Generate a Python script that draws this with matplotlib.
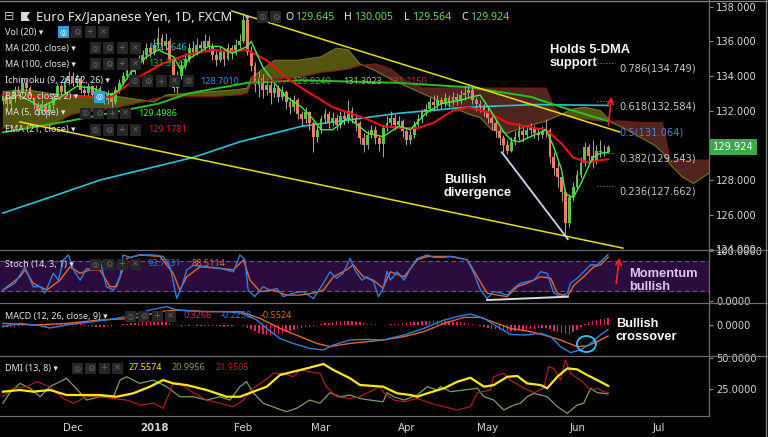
import numpy as np
import pandas as pd
import matplotlib
matplotlib.use("Agg")
import matplotlib.pyplot as plt
from matplotlib.patches import Ellipse, Rectangle, Polygon
from matplotlib.lines import Line2D

plt.rcParams['font.family'] = ['DejaVu Sans']

# ---------------- data ----------------
# daily candles, EUR/JPY, 7 Nov 2017 .. 13 Jun 2018 (one bar per weekday)
start_date = '2017-11-07'
first_open = 132.6
closes = [132.9, 132.4, 132.7, 133.2, 133.0, 133.6, 133.3, 132.8, 132.3, 132.0,
          132.4, 131.9, 132.3, 132.8, 133.4, 133.1, 133.7, 134.0, 133.6, 133.9,
          133.2, 133.0, 133.4, 132.9, 133.3, 132.8, 132.6, 133.0, 132.5, 133.2,
          133.6, 134.0, 134.3, 134.2, 134.7, 134.9, 135.2, 135.6, 135.3, 135.8,
          136.2, 135.7, 136.0, 135.0, 133.3, 134.0, 134.6, 135.0, 135.6, 135.4,
          135.8, 135.6, 136.0, 135.7, 135.2, 134.9, 135.4, 135.0, 135.6, 135.3,
          135.8, 136.0, 137.2, 135.4, 134.6, 133.5, 133.9, 133.2, 133.5, 133.0,
          133.3, 132.8, 133.1, 132.5, 132.2, 132.6, 131.8, 131.5, 131.9, 131.3,
          130.5, 130.9, 131.5, 131.8, 131.3, 131.6, 131.2, 131.7, 131.5, 132.0,
          131.6, 131.3, 130.4, 130.0, 130.6, 130.9, 130.4, 130.1, 131.0, 131.3,
          131.6, 131.2, 131.4, 130.8, 130.3, 130.6, 131.2, 131.5, 131.9, 132.1,
          132.5, 132.3, 132.6, 132.4, 132.7, 132.5, 132.8, 132.6, 132.9, 133.0,
          133.2, 132.6, 132.4, 132.2, 132.0, 131.6, 131.3, 130.8, 130.4, 130.0,
          129.7, 130.2, 130.5, 130.8, 130.6, 130.9, 131.0, 130.7, 130.6, 130.8,
          130.9, 129.3, 128.7, 128.2, 127.3, 125.5, 127.0, 127.6, 128.3, 129.0,
          129.9, 129.4, 129.1, 129.7, 129.6, 129.645, 129.924]
highs = [133.1, 133.0, 132.9, 133.4, 133.4, 133.9, 133.8, 133.4, 132.9, 132.5,
         132.6, 132.5, 132.5, 133.0, 133.6, 133.6, 133.9, 134.3, 134.2, 134.1,
         134.0, 133.5, 133.6, 133.5, 133.5, 133.4, 133.0, 133.2, 133.1, 133.4,
         133.8, 134.2, 134.6, 134.5, 135.0, 135.2, 135.5, 135.9, 135.8, 136.1,
         136.8, 136.4, 136.5, 136.2, 135.1, 134.3, 134.9, 135.3, 135.9, 136.0,
         136.2, 136.0, 136.4, 136.3, 135.9, 135.5, 135.7, 135.6, 135.9, 135.8,
         136.1, 136.4, 137.6, 137.3, 135.7, 134.8, 134.3, 134.1, 133.9, 133.7,
         133.6, 133.5, 133.4, 133.2, 132.8, 132.9, 132.7, 132.0, 132.2, 132.0,
         131.4, 131.2, 131.7, 132.1, 132.0, 131.9, 131.8, 132.0, 132.0, 132.6,
         132.2, 131.8, 131.4, 130.7, 130.9, 131.2, 131.1, 130.6, 131.2, 131.7,
         132.0, 131.8, 131.7, 131.5, 131.0, 130.9, 131.4, 131.8, 132.1, 132.4,
         132.8, 132.9, 132.9, 132.8, 133.0, 132.9, 133.1, 133.0, 133.2, 133.4,
         133.5, 133.4, 132.8, 132.6, 132.4, 132.2, 131.8, 131.5, 131.0, 130.6,
         130.3, 130.5, 130.8, 131.3, 131.0, 131.2, 131.3, 131.2, 131.0, 131.1,
         131.5, 131.0, 129.6, 129.0, 128.4, 127.5, 127.2, 127.9, 128.6, 129.3,
         130.2, 130.1, 130.3, 130.0, 130.3, 130.0, 130.005]
lows = [132.4, 132.2, 132.2, 132.5, 132.8, 132.9, 133.1, 132.6, 132.1, 131.7,
        131.8, 131.6, 131.7, 132.1, 132.7, 132.9, 133.0, 133.5, 133.4, 133.4,
        133.0, 132.8, 132.8, 132.7, 132.7, 132.6, 132.4, 132.4, 132.2, 132.4,
        133.0, 133.5, 133.8, 133.9, 134.1, 134.5, 134.7, 135.0, 135.1, 135.2,
        135.6, 135.5, 135.5, 134.8, 133.1, 133.0, 133.8, 134.4, 134.8, 135.1,
        135.2, 135.3, 135.4, 135.4, 134.9, 134.6, 134.8, 134.6, 134.9, 135.0,
        135.2, 135.6, 135.9, 135.2, 134.3, 133.1, 132.8, 132.7, 132.9, 132.4,
        132.8, 132.5, 132.6, 132.1, 131.8, 132.0, 131.5, 131.1, 131.3, 130.9,
        129.6, 130.2, 130.7, 131.3, 131.0, 131.1, 130.9, 131.0, 131.2, 131.3,
        131.3, 130.8, 130.1, 129.6, 129.8, 130.4, 130.1, 129.7, 129.3, 130.8,
        131.1, 130.9, 131.0, 130.5, 130.0, 130.1, 130.4, 131.0, 131.3, 131.7,
        131.9, 132.0, 132.1, 132.1, 132.2, 132.2, 132.3, 132.3, 132.4, 132.6,
        132.8, 132.4, 132.0, 131.9, 131.7, 131.3, 130.9, 130.5, 130.0, 129.6,
        129.5, 129.6, 130.0, 130.3, 130.2, 130.4, 130.6, 130.4, 130.3, 130.4,
        130.5, 129.0, 128.3, 127.6, 126.8, 124.9, 125.3, 126.8, 127.4, 128.1,
        128.8, 129.1, 128.7, 128.9, 129.3, 129.4, 129.564]

# moving averages (bar index, value)
ma200_x = [0, 12, 25, 49, 61, 77, 102, 120, 137, 156]
ma200_y = [126.1, 127.0, 128.0, 129.3, 130.2, 131.1, 131.85, 132.2, 132.35, 132.3]
ma100_x = [0, 17, 40, 48, 63, 77, 102, 120, 136, 144, 156]
ma100_y = [130.75, 131.4, 132.4, 133.0, 133.6, 133.75, 133.6, 133.35, 132.8, 132.2, 131.4]
ema21_x = [0, 5, 28, 34, 41, 47, 54, 59, 63, 68, 73, 77, 85, 94, 98, 103, 107, 111,
           116, 120, 125, 130, 137, 140, 144, 147, 151, 154, 156]
ema21_y = [132.9, 132.8, 132.8, 133.8, 134.7, 135.2, 135.5, 135.4, 135.5, 134.9, 133.9,
           133.3, 132.2, 131.5, 131.1, 131.0, 131.0, 131.3, 132.0, 132.2, 131.9, 131.3,
           131.0, 130.9, 130.1, 129.3, 129.0, 129.15, 129.2]
ma5_x = [0, 4, 10, 15, 19, 23, 28, 30, 33, 37, 40, 44, 46, 48, 53, 56, 59, 63, 64, 67,
         70, 73, 77, 80, 82, 85, 89, 94, 98, 102, 105, 109, 113, 118, 121, 123, 126, 129,
         131, 133, 136, 140, 142, 144, 145, 147, 149, 151, 152, 154, 156]
ma5_y = [132.6, 132.9, 132.2, 132.8, 133.4, 133.3, 132.9, 133.2, 134.2, 135.1, 135.5,
         135.1, 134.3, 135.0, 135.7, 135.7, 135.3, 135.7, 136.0, 134.5, 133.6, 132.8,
         132.2, 131.5, 130.9, 130.9, 131.6, 130.7, 130.5, 131.1, 130.9, 131.85, 132.4,
         132.6, 132.8, 132.9, 131.9, 130.8, 130.3, 130.2, 130.5, 130.9, 129.9, 128.6,
         127.2, 127.0, 127.8, 128.8, 129.3, 129.55, 129.6]

# ichimoku cloud (shifted 26 bars ahead)
cloud_x = [0, 6, 12, 18, 24, 30, 36, 39, 42, 48, 54, 60, 63, 64, 70, 76, 82, 86, 89, 92,
           96, 100, 104, 108, 112, 116, 120, 123, 126, 130, 135, 140, 142, 144, 147, 150,
           154, 157, 160, 164, 168, 170, 172, 175, 178, 182]
span_a = [133.1, 133.2, 133.0, 132.9, 132.8, 132.8, 132.6, 132.5, 132.9, 133.0,
          133.1, 133.2, 133.3, 133.9, 134.9, 134.9, 135.1, 135.6, 135.5, 134.7,
          134.3, 133.8, 133.4, 133.0, 132.6, 132.2, 131.8, 131.6, 130.9, 130.7,
          131.1, 131.4, 131.6, 131.8, 132.1, 132.2, 132.0, 131.3, 131.0, 130.5,
          130.0, 129.6, 128.9, 128.2, 127.8, 128.4]
span_b = [131.0, 131.0, 131.1, 131.8, 132.0, 132.2, 132.5, 132.7, 132.8, 132.8,
          132.8, 132.9, 133.0, 133.6, 133.8, 133.9, 134.2, 134.3, 134.4, 134.6,
          134.7, 134.4, 133.7, 133.3, 133.3, 133.3, 133.3, 133.3, 133.3, 133.3,
          133.3, 133.3, 132.2, 131.8, 131.6, 131.5, 131.4, 131.4, 131.4, 131.3,
          131.3, 131.3, 129.15, 129.15, 129.15, 129.15]

# drawings
upper_tl_x, upper_tl_y = [59.0, 159.0], [137.74, 130.77]
lower_tl_x, lower_tl_y = [4.4, 159.8], [131.35, 124.08]
div_x, div_y = [128.6, 145.6], [129.6, 124.6]
fib_ratio = ['0.786', '0.618', '0.5', '0.382', '0.236']
fib_price = [134.749, 132.584, 131.064, 129.543, 127.662]

# stochastic (14,3,1)
stk_x = [0, 3.1, 5.7, 7.8, 9.6, 10.8, 13.0, 14.3, 15.6, 16.9, 18.2, 19.9, 21.6, 23.3, 25.0,
         26.7, 28.5, 30.2, 31.0, 32.8, 35.3, 38.8, 41.3, 43.1, 44.8, 46.1, 47.4, 49.1, 52.5,
         55.9, 59.4, 61.1, 62.4, 63.2, 64.9, 67.1, 68.8, 70.6, 72.3, 74.8, 77.4, 80.0, 82.6,
         84.3, 86.0, 87.7, 89.5, 90.7, 92.5, 93.8, 95.5, 96.8, 98.0, 99.0, 99.9, 101.6,
         103.4, 105.1, 106.8, 109.4, 111.1, 113.7, 115.4, 117.1, 119.7, 121.4, 123.1, 124.8,
         126.5, 128.3, 130.0, 131.7, 133.4, 135.1, 136.9, 138.6, 140.3, 142.0, 143.7, 145.5,
         146.3, 148.0, 149.7, 151.5, 153.2, 154.9, 156.0]
stk_y = [22, 36, 69, 29, 29, 16, 56, 42, 83, 93, 63, 42, 66, 63, 83, 29, 22, 49, 93, 88,
         93, 93, 90, 69, 5, 29, 63, 72, 69, 66, 59, 93, 83, 22, 9, 29, 22, 25, 9, 16,
         19, 5, 36, 59, 46, 56, 86, 63, 42, 49, 39, 9, 25, 60, 42, 59, 42, 66, 86, 93,
         88, 88, 90, 88, 83, 56, 22, 5, 19, 16, 12, 26, 36, 39, 42, 59, 56, 16, 9, 16,
         36, 46, 59, 73, 73, 86, 93.8]
std_x = [0, 4.4, 5.7, 7.8, 11.3, 14.7, 17.3, 19.9, 22.4, 25.0, 27.6, 29.3, 31.9, 35.3, 40.5,
         43.9, 45.6, 47.4, 50.8, 55.9, 59.4, 62.0, 63.7, 66.3, 69.7, 73.1, 76.6, 80.0, 82.6,
         85.2, 88.6, 90.3, 92.9, 95.5, 98.0, 99.0, 99.9, 103.4, 106.8, 109.4, 115.4, 119.7,
         122.3, 124.8, 127.4, 130.0, 132.6, 135.1, 138.6, 141.2, 142.9, 145.5, 147.2, 149.7,
         152.3, 154.0, 156.0]
std_y = [22, 49, 63, 36, 22, 42, 69, 56, 63, 63, 29, 29, 86, 93, 90, 56, 22, 49, 69, 66,
         63, 83, 42, 19, 22, 12, 12, 16, 22, 49, 63, 73, 49, 42, 26, 45, 59, 49, 83, 90,
         90, 83, 49, 16, 12, 9, 29, 36, 49, 46, 16, 9, 32, 49, 69, 73, 88.5]
stoch_div_x, stoch_div_y = [124.8, 145.6], [2, 8.7]

# MACD (12,26,9)
macd_x = [0, 4.4, 9.6, 12.1, 16.4, 23.3, 29.3, 33.6, 37.9, 42.2, 44.8, 50.8, 57.7, 62.0,
          65.4, 68.0, 71.4, 74.8, 79.1, 82.6, 85.2, 89.5, 93.8, 98.0, 103.4, 108.5, 113.7,
          117.1, 120.5, 124.0, 127.4, 130.8, 134.3, 138.6, 141.2, 143.7, 146.3, 148.9,
          151.5, 154.0, 156.0]
macd_y = [-0.08, 0.08, -0.03, -0.15, 0.0, 0.17, 0.33, 0.5, 0.75, 0.92, 0.75, 0.67, 0.67,
          0.58, 0.25, -0.17, -0.67, -0.92, -1.17, -1.25, -1.0, -0.75, -0.72, -0.75, -0.5,
          -0.17, 0.25, 0.42, 0.55, 0.33, -0.08, -0.47, -0.5, -0.42, -0.58, -1.08, -1.38,
          -1.25, -0.92, -0.5, -0.2258]
sig_x = [0, 7.8, 16.4, 25.0, 33.6, 40.5, 44.8, 52.5, 61.1, 66.3, 72.3, 76.6, 80.9, 84.3,
         89.5, 98.0, 103.4, 108.5, 113.7, 118.8, 123.1, 127.4, 130.8, 136.0, 139.4, 143.7,
         148.0, 150.6, 153.2, 156.0]
sig_y = [0.08, 0.0, 0.08, 0.25, 0.33, 0.67, 0.75, 0.67, 0.67, 0.33, -0.25, -0.58, -0.92,
         -1.08, -0.92, -0.75, -0.58, -0.33, 0.08, 0.38, 0.38, 0.08, -0.17, -0.33, -0.5,
         -0.75, -1.08, -1.05, -0.83, -0.5524]
hist = [-0.08, -0.1, -0.1, -0.08, -0.05,
        -0.03, -0.02, 0.0, 0.02, -0.02, -0.04, -0.05, -0.03, 0.0, 0.03, 0.06,
        0.08, 0.1, 0.12, 0.1, 0.08, 0.05,
        -0.03, -0.06, -0.08, -0.1, -0.08, -0.06, -0.04, -0.02,
        0.02, 0.04, 0.06, 0.08, 0.1,
        0.12, 0.15, 0.18, 0.2, 0.22, 0.22, 0.2, 0.15, 0.08, 0.02,
        -0.06, -0.08, -0.05, -0.04, -0.02, -0.03, -0.05, -0.06, -0.04, -0.03, -0.05, -0.06,
        -0.08, -0.06, -0.04, -0.02,
        0.0, -0.06, -0.14, -0.22,
        -0.3, -0.38, -0.44, -0.48, -0.5, -0.48, -0.44, -0.4, -0.35, -0.3, -0.25, -0.2,
        -0.15, -0.12, -0.09, -0.06, -0.02,
        0.04, 0.08, 0.12, 0.15, 0.18, 0.2, 0.22, 0.22, 0.2, 0.17, 0.13, 0.1,
        0.07, 0.05, 0.03, 0.02, 0.01, 0.02, 0.03, 0.05,
        0.07, 0.09, 0.11, 0.13, 0.15, 0.17, 0.19, 0.2, 0.21, 0.22, 0.22, 0.21, 0.2, 0.19,
        0.17, 0.15, 0.13, 0.1, 0.07, 0.03,
        -0.02, -0.06, -0.1, -0.14, -0.18, -0.22, -0.25, -0.28, -0.3,
        -0.3, -0.29, -0.27, -0.25, -0.23, -0.21, -0.19, -0.17, -0.15, -0.14,
        -0.2, -0.28, -0.36, -0.42, -0.46, -0.44, -0.36,
        -0.24, -0.1, 0.04, 0.13, 0.2, 0.25, 0.29, 0.31, 0.3266]

# DMI (13,8)
adx_x = [0, 4.4, 7.8, 12.1, 16.4, 25.0, 29.3, 33.6, 37.9, 41.3, 43.9, 47.4, 52.5, 57.7,
         61.1, 64.5, 68.0, 71.4, 74.8, 78.3, 82.6, 85.2, 89.5, 92.0, 98.0, 101.6, 105.1,
         106.8, 109.4, 113.7, 117.1, 120.5, 124.0, 126.5, 130.0, 132.6, 135.1, 138.6,
         140.3, 142.9, 145.5, 148.0, 150.6, 153.2, 156.0]
adx_y = [22.8, 24.2, 22.8, 24.2, 20.1, 20.1, 18.7, 21.5, 26.9, 32.3, 29.6, 28.2, 24.2,
         18.7, 18.7, 22.8, 26.9, 36.4, 39.1, 41.8, 45.4, 40.5, 33.7, 28.3, 26.9, 21.5,
         20.1, 18.7, 21.5, 25.6, 30.9, 34.2, 26.9, 28.2, 35.0, 35.6, 29.6, 28.2, 25.6,
         35.0, 41.8, 41.0, 36.4, 32.3, 27.5574]
pdi_x = [0, 1.8, 4.4, 7.0, 9.6, 12.1, 16.4, 19.9, 21.6, 25.0, 28.5, 30.2, 31.9, 35.3,
         38.8, 42.2, 45.6, 49.1, 52.5, 55.9, 58.5, 61.1, 62.8, 64.5, 67.1, 70.6, 73.1,
         75.7, 79.1, 81.7, 84.3, 86.9, 89.5, 92.0, 94.6, 98.0, 99.0, 100.8, 103.4, 106.8,
         109.4, 111.9, 112.8, 115.4, 118.8, 122.3, 124.0, 126.5, 129.1, 131.7, 133.4,
         135.1, 136.9, 138.6, 140.3, 142.9, 145.5, 148.0, 149.7, 151.5, 153.2, 156.0]
pdi_y = [13.4, 22, 29.6, 25.6, 18.7, 26.9, 33.7, 22, 16, 18.7, 18.7, 32.3, 35, 29.6,
         32.3, 26.9, 18.7, 18.7, 16, 18.7, 16, 26.9, 31, 22, 13.4, 9.3, 6.5, 9.3, 16,
         13.4, 22, 18.7, 20.1, 17.3, 16, 14.6, 22, 18.7, 16, 20.1, 26.9, 24.2, 26.9,
         22.8, 24.2, 25.6, 18.7, 16, 7.9, 11.9, 13.4, 18.7, 21.5, 20.1, 18.7, 10.6, 5.2,
         11.9, 13.4, 25.6, 22, 20.9956]
mdi_x = [0, 2.7, 6.1, 8.7, 12.1, 15.6, 18.2, 21.6, 25.0, 28.5, 31.9, 35.3, 38.8, 41.3,
         43.9, 45.6, 49.1, 52.5, 55.9, 59.4, 62.0, 64.5, 67.1, 69.7, 72.3, 74.8, 76.6,
         80.0, 81.7, 83.4, 86.0, 89.5, 92.0, 94.6, 97.2, 98.2, 100.8, 103.4, 106.8, 110.2,
         113.7, 117.1, 120.5, 122.3, 125.7, 126.5, 129.1, 130.8, 134.3, 136.9, 139.4,
         140.7, 142.0, 143.7, 145.0, 146.3, 148.9, 151.5, 153.2, 154.9, 156.0]
mdi_y = [18.7, 25.6, 26.9, 31, 26.9, 17.3, 13.4, 18.7, 18.7, 17.3, 16, 11.9, 13.4, 9.3,
         29.6, 29.6, 22, 16, 13.4, 10.6, 16, 25.6, 31, 37.8, 37.8, 35, 40.5, 38.5, 37.8,
         26.9, 18.7, 17.3, 18.7, 22.8, 26.9, 22, 16, 14.6, 17.3, 13.4, 10.6, 7.9, 10.6,
         22, 24.2, 35, 37.8, 32.3, 25.6, 22, 25.6, 43.2, 41.8, 32.3, 48.6, 37.8, 32.3,
         24.2, 25.6, 22.8, 21.9505]

# ---------------- figure ----------------
W, H = 768, 437
fig = plt.figure(figsize=(W / 100, H / 100), dpi=100, facecolor='black')
XMAX = 182.0


def panel(top, bottom):
    a = fig.add_axes([0, (H - bottom) / H, 709 / W, (bottom - top) / H])
    a.set_facecolor('black')
    for s in a.spines.values():
        s.set_visible(False)
    a.set_xlim(-0.75, XMAX)
    a.yaxis.tick_right()
    a.tick_params(axis='y', colors='#8a8a8a', labelcolor='#d8d8d8', labelsize=7.1,
                  length=3, pad=2)
    a.tick_params(axis='x', bottom=False, labelbottom=False)
    return a


ax = panel(0, 250)
ax_st = panel(250, 303)
ax_md = panel(303, 356)
ax_dm = panel(356, 416)

# ---- main price panel ----
ax.set_ylim(123.97, 138.375)
# the 130 label sits under the last-price tag, as in the reference
price_ticks = [124, 126, 128, 132, 134, 136, 138]
ax.set_yticks(price_ticks)
ax.set_yticklabels(['%.3f' % v for v in price_ticks])

cx = np.array(cloud_x, float)
sa = np.array(span_a)
sb = np.array(span_b)
ax.fill_between(cx, sa, sb, where=sa >= sb, interpolate=True, color='#5e5e12',
                alpha=0.9, lw=0, zorder=1)
ax.fill_between(cx, sa, sb, where=sa < sb, interpolate=True, color='#5a2a22',
                alpha=0.9, lw=0, zorder=1)
ax.plot(cx, sa, color='#77771c', lw=0.8, zorder=1.5)
ax.plot(cx, sb, color='#7c1c1c', lw=0.8, zorder=1.5)

ax.plot(ma200_x, ma200_y, color='#25c6da', lw=1.2, zorder=2)
ax.plot(ma100_x, ma100_y, color='#22c422', lw=1.4, zorder=2)

c = np.array(closes)
o = np.r_[first_open, c[:-1]]
bars = np.arange(len(c))
ax.vlines(bars, lows, highs, color='#a9a9a9', lw=0.7, zorder=3)
body_lo = np.minimum(o, c)
body_h = np.maximum(np.abs(c - o), 0.04)
ax.bar(bars, body_h, bottom=body_lo, width=0.72, linewidth=0, zorder=4,
       color=np.where(c >= o, '#5cc24a', '#f07d63'))

ax.plot(ema21_x, ema21_y, color='#ee1111', lw=1.5, zorder=5)
ax.plot(ma5_x, ma5_y, color='#3ef23e', lw=1.0, zorder=5)

ax.plot(upper_tl_x, upper_tl_y, color='#e8e000', lw=1.1, zorder=6)
ax.plot(lower_tl_x, lower_tl_y, color='#e8e000', lw=1.1, zorder=6)
ax.plot(div_x, div_y, color='#cdd9f2', lw=1.3, zorder=6)

for r, p in zip(fib_ratio, fib_price):
    if r != '0.5':
        ax.plot([153.2, 157.8], [p, p], color='#8c8c8c', lw=0.8, ls=':', zorder=2.5)
    ax.text(159.0, p - 0.03, '%s(%.3f)' % (r, p), ha='left', va='top', fontsize=7.1,
            color='#4f80d8' if r == '0.5' else '#c9c9c9', zorder=7)

ax.annotate('', xy=(156.9, 132.95), xytext=(156.0, 131.0),
            arrowprops=dict(arrowstyle='->', color='#ff2020', lw=1.2, mutation_scale=10),
            zorder=7)

ax.text(1.006, closes[-1], '%.3f' % closes[-1], transform=ax.get_yaxis_transform(),
        ha='left', va='center', color='white', fontsize=7.1, clip_on=False,
        bbox=dict(boxstyle='square,pad=0.3', fc='#3fa84a', ec='none'))

# ---- stochastic ----
ax_st.set_ylim(-4, 103)
ax_st.set_yticks([0, 100])
ax_st.set_yticklabels(['0.0000', '100.0000'])
ax_st.axhspan(20, 80, color='#2a0c3e', zorder=0)
for lv in (20, 80):
    ax_st.axhline(lv, color='#6c5a7c', lw=0.8, ls=(0, (4, 3)), zorder=1)
ax_st.plot(std_x, std_y, color='#e8662c', lw=1.0, zorder=3)
ax_st.plot(stk_x, stk_y, color='#2f80dc', lw=1.0, zorder=3)
ax_st.plot(stoch_div_x, stoch_div_y, color='#dcdcf0', lw=1.4, zorder=4)
ax_st.annotate('', xy=(159.0, 93), xytext=(158.0, 30),
               arrowprops=dict(arrowstyle='->', color='#ff2020', lw=1.2, mutation_scale=10))

# ---- MACD ----
ax_md.set_ylim(-1.55, 1.1)
ax_md.set_yticks([0])
ax_md.set_yticklabels(['0.0000'])
ax_md.bar(np.arange(len(hist)), hist, width=0.38, color='#e8206c', linewidth=0, zorder=1)
ax_md.plot(sig_x, sig_y, color='#e8662c', lw=1.0, zorder=3)
ax_md.plot(macd_x, macd_y, color='#2f80dc', lw=1.0, zorder=3)
ax_md.add_patch(Ellipse((150.4, -0.95), 4.9, 0.8, fill=False, ec='#22d3ee', lw=1.3,
                        zorder=4))

# ---- DMI ----
ax_dm.set_ylim(3.0, 51.9)
ax_dm.set_yticks([25, 50])
ax_dm.set_yticklabels(['25.0000', '50.0000'])
ax_dm.plot(pdi_x, pdi_y, color='#7f9e62', lw=0.9, zorder=2)
ax_dm.plot(mdi_x, mdi_y, color='#b01c1c', lw=0.9, zorder=2)
ax_dm.plot(adx_x, adx_y, color='#ffea00', lw=1.6, zorder=3)

dates = pd.bdate_range(start_date, periods=int(XMAX) + 1)
month_starts = pd.date_range('2017-12-01', '2018-07-01', freq='MS')
tick_pos = dates.searchsorted(month_starts)
tick_lab = ['2018' if m.month == 1 else m.strftime('%b') for m in month_starts]
ax_dm.set_xticks(tick_pos)
ax_dm.set_xticklabels(tick_lab)
ax_dm.tick_params(axis='x', bottom=True, labelbottom=True, length=0, pad=5,
                  labelcolor='#d4d4d4', labelsize=7.4)
for t in ax_dm.get_xticklabels():
    if t.get_text() == '2018':
        t.set_fontweight('bold')


# ---------------- overlays in pixel coords ----------------
def ftext(x, y, s, **kw):
    kw.setdefault('va', 'center')
    fig.text(x / W, 1 - y / H, s, **kw)


def fline(x0, y0, x1, y1, color='#6c6c6c'):
    fig.add_artist(Line2D([x0 / W, x1 / W], [1 - y0 / H, 1 - y1 / H], color=color,
                          lw=0.9, transform=fig.transFigure))


glyphs = ['◎', '⚙', '+', '×']


def icons(x0, y, n, blue_first=False):
    for k in range(n):
        x = x0 + k * 13.5
        blue = blue_first and k == 0
        fig.add_artist(Rectangle(((x - 5.5) / W, 1 - (y + 5.5) / H), 11 / W, 11 / H,
                                 transform=fig.transFigure, lw=0,
                                 fc='#2d9fdc' if blue else '#262626'))
        ftext(x, y, glyphs[k % 4], ha='center', fontsize=6,
              color='white' if blue else '#6a6a6a')


for y in (250, 303, 356):
    fline(0, y, 768, y)
fline(0, 416, 709, 416)
fline(709, 0, 709, 416)
fline(766, 0, 766, 437, '#8a8a8a')
fline(0, 0.5, 768, 0.5, '#8a8a8a')

lab = dict(fontsize=6.5, color='#e6e6e6', family=['Noto Sans', 'DejaVu Sans'])
val = dict(fontsize=6.5, family=['Noto Sans', 'DejaVu Sans'])

# header
ftext(4, 17, '⊟', fontsize=9, color='#bdbdbd')
fig.add_artist(Polygon([(21 / W, 1 - 12 / H), (30 / W, 1 - 12 / H), (27 / W, 1 - 16.5 / H),
                        (30 / W, 1 - 21 / H), (21 / W, 1 - 21 / H)], closed=True,
                       transform=fig.transFigure, fc='#d8d8d8', ec='none'))
ftext(36, 17, 'Euro Fx/Japanese Yen, 1D, FXCM', fontsize=9.3, color='#ececec',
      family=['Noto Sans', 'DejaVu Sans'])
ftext(245, 17, '▾', fontsize=7, color='#bbbbbb')
icons(262, 17, 2)
hdr = dict(fontsize=7.6, family=['Noto Sans', 'DejaVu Sans'])
for x_l, letter, x_v, num in [(285, 'O', 295, '129.645'), (344, 'H', 354, '130.005'),
                              (404, 'L', 412, '129.564'), (461, 'C', 470, '129.924')]:
    ftext(x_l, 17, letter, color='#eeeeee', **hdr)
    ftext(x_v, 17, num, color='#62d862', **hdr)

# study legends (main)
ftext(5, 32, 'Vol (20) ▾', **lab)
icons(63, 32, 4, blue_first=True)
ftext(5, 48, 'MA (200, close) ▾', **lab)
icons(95, 48, 4)
ftext(148, 48, '132.2646', color='#25c6da', **val)
ftext(5, 64, 'MA (100, close) ▾', **lab)
icons(95, 64, 4)
ftext(148, 64, '131.3223', color='#22c422', **val)
ftext(5, 81, 'Ichimoku (9, 26, 52, 26) ▾', **lab)
icons(134, 81, 5)
for xv, sv, cv in [(200, '128.7010', '#2196f3'), (248, '129.9980', '#8b1a1a'),
                   (292, '129.9240', '#4caf50'), (343, '131.3023', '#9ccc65'),
                   (388, '131.2150', '#d32f2f')]:
    ftext(xv, 81, sv, color=cv, **val)
ftext(5, 97, 'BB (20, close, 2) ▾', **lab)
icons(99, 97, 1, blue_first=True)
ftext(5, 113, 'MA (5, close) ▾', **lab)
icons(85, 113, 4)
ftext(138, 113, '129.4986', color='#3ef23e', **val)
ftext(5, 130, 'EMA (21, close) ▾', **lab)
icons(95, 130, 4)
ftext(148, 130, '129.1781', color='#ee1111', **val)

# study legends (lower panes)
ftext(5, 264, 'Stoch (14, 3, 1) ▾', **lab)
icons(95, 264, 4)
ftext(148, 264, '93.7931', color='#2f80dc', **val)
ftext(192, 264, '88.5114', color='#e8662c', **val)
ftext(5, 316, 'MACD (12, 26, close, 9) ▾', **lab)
icons(130, 316, 4)
ftext(183, 316, '0.3266', color='#e0206a', **val)
ftext(221, 316, '-0.2258', color='#2f80dc', **val)
ftext(261, 316, '-0.5524', color='#e8662c', **val)
ftext(5, 368, 'DMI (13, 8) ▾', **lab)
icons(77, 368, 4)
ftext(129, 368, '27.5574', color='#ffea00', **val)
ftext(172, 368, '20.9956', color='#7f9e62', **val)
ftext(216, 368, '21.9505', color='#c02020', **val)

# annotations
ann = dict(fontsize=9.3, fontweight='bold', family=['Liberation Sans', 'DejaVu Sans'])
ftext(550, 50, 'Holds 5-DMA', color='white', **ann)
ftext(550, 63, 'support', color='white', **ann)
ftext(444, 180, 'Bullish', color='white', **ann)
ftext(444, 193, 'divergence', color='white', **ann)
ftext(629, 274, 'Momentum', color='#e2c8f8', **ann)
ftext(629, 287, 'bullish', color='#e2c8f8', **ann)
ftext(616, 324, 'Bullish', color='white', **ann)
ftext(616, 337, 'crossover', color='white', **ann)

fig.savefig('out.png', dpi=100, facecolor='black')
